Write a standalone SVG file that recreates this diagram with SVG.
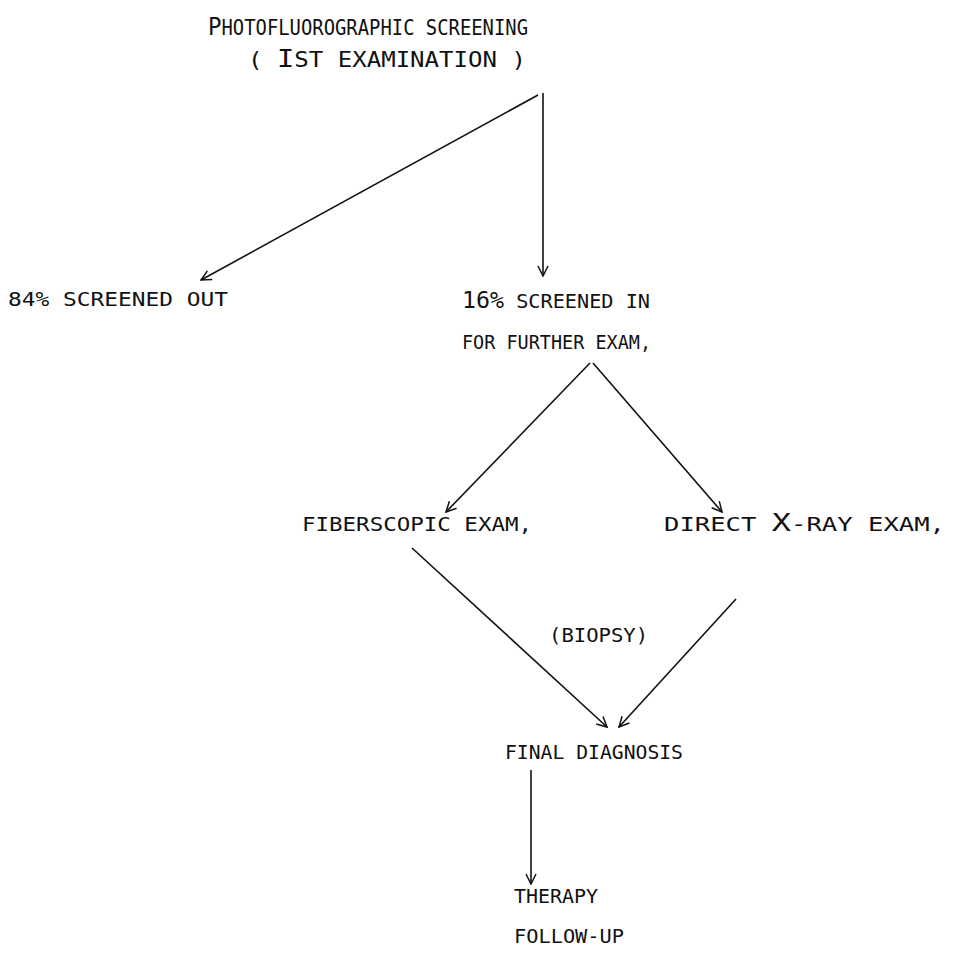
<svg xmlns="http://www.w3.org/2000/svg" width="964" height="969" viewBox="0 0 964 969">
<defs>
<style>
text{font-family:"DejaVu Sans Mono","Liberation Mono",monospace;font-size:20px;fill:#111}
.big{font-size:25px}
.t{font-size:21px}
.ln{stroke:#111;stroke-width:1.6;fill:none}
</style>
<marker id="ah" viewBox="0 0 12 12" refX="11" refY="6" markerWidth="12" markerHeight="12" markerUnits="userSpaceOnUse" orient="auto">
<path d="M1,1 L11,6 L1,11" fill="none" stroke="#111" stroke-width="1.5"/>
</marker>
</defs>
<rect width="964" height="969" fill="#fff"/>
<g id="connectors">
<line class="ln" x1="543" y1="93" x2="543" y2="276" marker-end="url(#ah)"/>
<line class="ln" x1="538" y1="95" x2="201" y2="280" marker-end="url(#ah)"/>
<line class="ln" x1="590" y1="363" x2="446" y2="512" marker-end="url(#ah)"/>
<line class="ln" x1="593" y1="363" x2="722" y2="512" marker-end="url(#ah)"/>
<line class="ln" x1="412" y1="548" x2="607" y2="727" marker-end="url(#ah)"/>
<line class="ln" x1="736" y1="599" x2="619" y2="727" marker-end="url(#ah)"/>
<line class="ln" x1="531" y1="770" x2="531" y2="884" marker-end="url(#ah)"/>
</g>
<g id="n-screening">
<text x="208" y="35" textLength="320" lengthAdjust="spacingAndGlyphs"><tspan class="big">P</tspan><tspan class="t">HOTOFLUOROGRAPHIC SCREENING</tspan></text>
<text x="248" y="67" textLength="278" lengthAdjust="spacingAndGlyphs"><tspan class="t">( </tspan><tspan class="big">I</tspan><tspan class="t">ST EXAMINATION )</tspan></text>
</g>
<g id="n-out">
<text x="8" y="306" textLength="220" lengthAdjust="spacingAndGlyphs">84% SCREENED OUT</text>
</g>
<g id="n-in">
<text x="462" y="308" textLength="188" lengthAdjust="spacingAndGlyphs"><tspan font-size="23">16%</tspan> SCREENED IN</text>
<text x="462" y="349" textLength="189" lengthAdjust="spacingAndGlyphs">FOR FURTHER EXAM,</text>
</g>
<g id="n-fiber">
<text x="302" y="531" textLength="230" lengthAdjust="spacingAndGlyphs">FIBERSCOPIC EXAM,</text>
</g>
<g id="n-xray">
<text x="664" y="531" textLength="281" lengthAdjust="spacingAndGlyphs">DIRECT <tspan class="big">X</tspan>-RAY EXAM,</text>
</g>
<g id="n-biopsy">
<text x="549" y="642" textLength="99" lengthAdjust="spacingAndGlyphs">(BIOPSY)</text>
</g>
<g id="n-final">
<text x="505" y="759" textLength="178" lengthAdjust="spacingAndGlyphs">FINAL DIAGNOSIS</text>
</g>
<g id="n-therapy">
<text x="514" y="903" textLength="84" lengthAdjust="spacingAndGlyphs">THERAPY</text>
<text x="514" y="943" textLength="110" lengthAdjust="spacingAndGlyphs">FOLLOW-UP</text>
</g>
</svg>
